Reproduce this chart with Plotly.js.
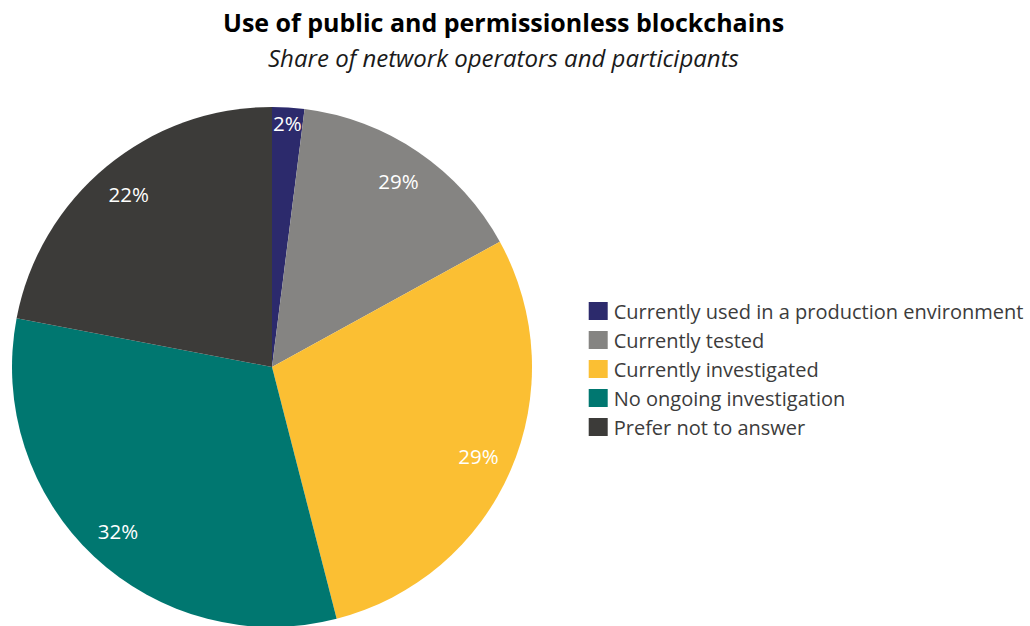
<!DOCTYPE html>
<html>
<head>
<meta charset="utf-8">
<script src="https://cdn.plot.ly/plotly-3.0.1.min.js"></script>
<style>
html, body { margin: 0; padding: 0; overflow: hidden; background: #fff; }
#chart { width: 1030px; height: 640px; }
</style>
</head>
<body>
<div id="chart"></div>
<script>
const categories = [
  "Currently used in a production environment",
  "Currently tested",
  "Currently investigated",
  "No ongoing investigation",
  "Prefer not to answer"
];
const shares = [2, 15, 29, 32, 22];
const sliceLabels = ["2%", "29%", "29%", "32%", "22%"];
const colors = ["#2c2a6c", "#858482", "#fbbf33", "#007770", "#3c3b39"];

const FONT = "'Open Sans', Lato, sans-serif";
const pieDomain = { x: [0, 544 / 1030], y: [0, 1] };

const pieTrace = {
  type: "pie",
  labels: categories,
  values: shares,
  textinfo: "none",
  marker: { colors: colors, line: { width: 0 } },
  sort: false,
  direction: "clockwise",
  rotation: 0,
  domain: pieDomain,
  hoverinfo: "label+percent"
};

// transparent ring carrying the slice labels near the outer edge
const labelTrace = {
  type: "pie",
  labels: categories,
  values: shares,
  text: sliceLabels,
  textinfo: "text",
  textposition: "inside",
  insidetextorientation: "horizontal",
  insidetextfont: { family: FONT, size: 20.5, color: "#ffffff" },
  hole: 0.73,
  marker: { colors: colors.map(() => "rgba(0,0,0,0)"), line: { width: 0 } },
  sort: false,
  direction: "clockwise",
  rotation: 0,
  domain: pieDomain,
  showlegend: false,
  hoverinfo: "skip"
};

const layout = {
  width: 1030,
  height: 640,
  margin: { l: 0, r: 0, t: 107, b: 13 },
  paper_bgcolor: "#ffffff",
  showlegend: true,
  uniformtext: { mode: "show", minsize: 20.5 },
  legend: {
    x: 0.557, y: 0.645, xanchor: "left", yanchor: "top",
    font: { family: FONT, size: 20, color: "#3c3c3c" },
    tracegroupgap: 0, itemclick: false
  },
  annotations: [
    {
      text: "<b>Use of public and permissionless blockchains</b>",
      xref: "paper", yref: "paper", x: 503 / 1030, y: 1 + (107 - 22) / 520,
      xanchor: "center", yanchor: "middle", showarrow: false,
      font: { family: FONT, size: 25, color: "#000000" }
    },
    {
      text: "<i>Share of network operators and participants</i>",
      xref: "paper", yref: "paper", x: 503 / 1030, y: 1 + (107 - 58) / 520,
      xanchor: "center", yanchor: "middle", showarrow: false,
      font: { family: FONT, size: 24, color: "#1a1a1a" }
    }
  ]
};

Plotly.newPlot("chart", [pieTrace, labelTrace], layout, { displayModeBar: false, staticPlot: true }).then(function () {
  document.querySelectorAll(".legendpoints path").forEach(function (p) {
    p.setAttribute("d", "M14,9H-5V-9H14Z");
  });
});
</script>
</body>
</html>
